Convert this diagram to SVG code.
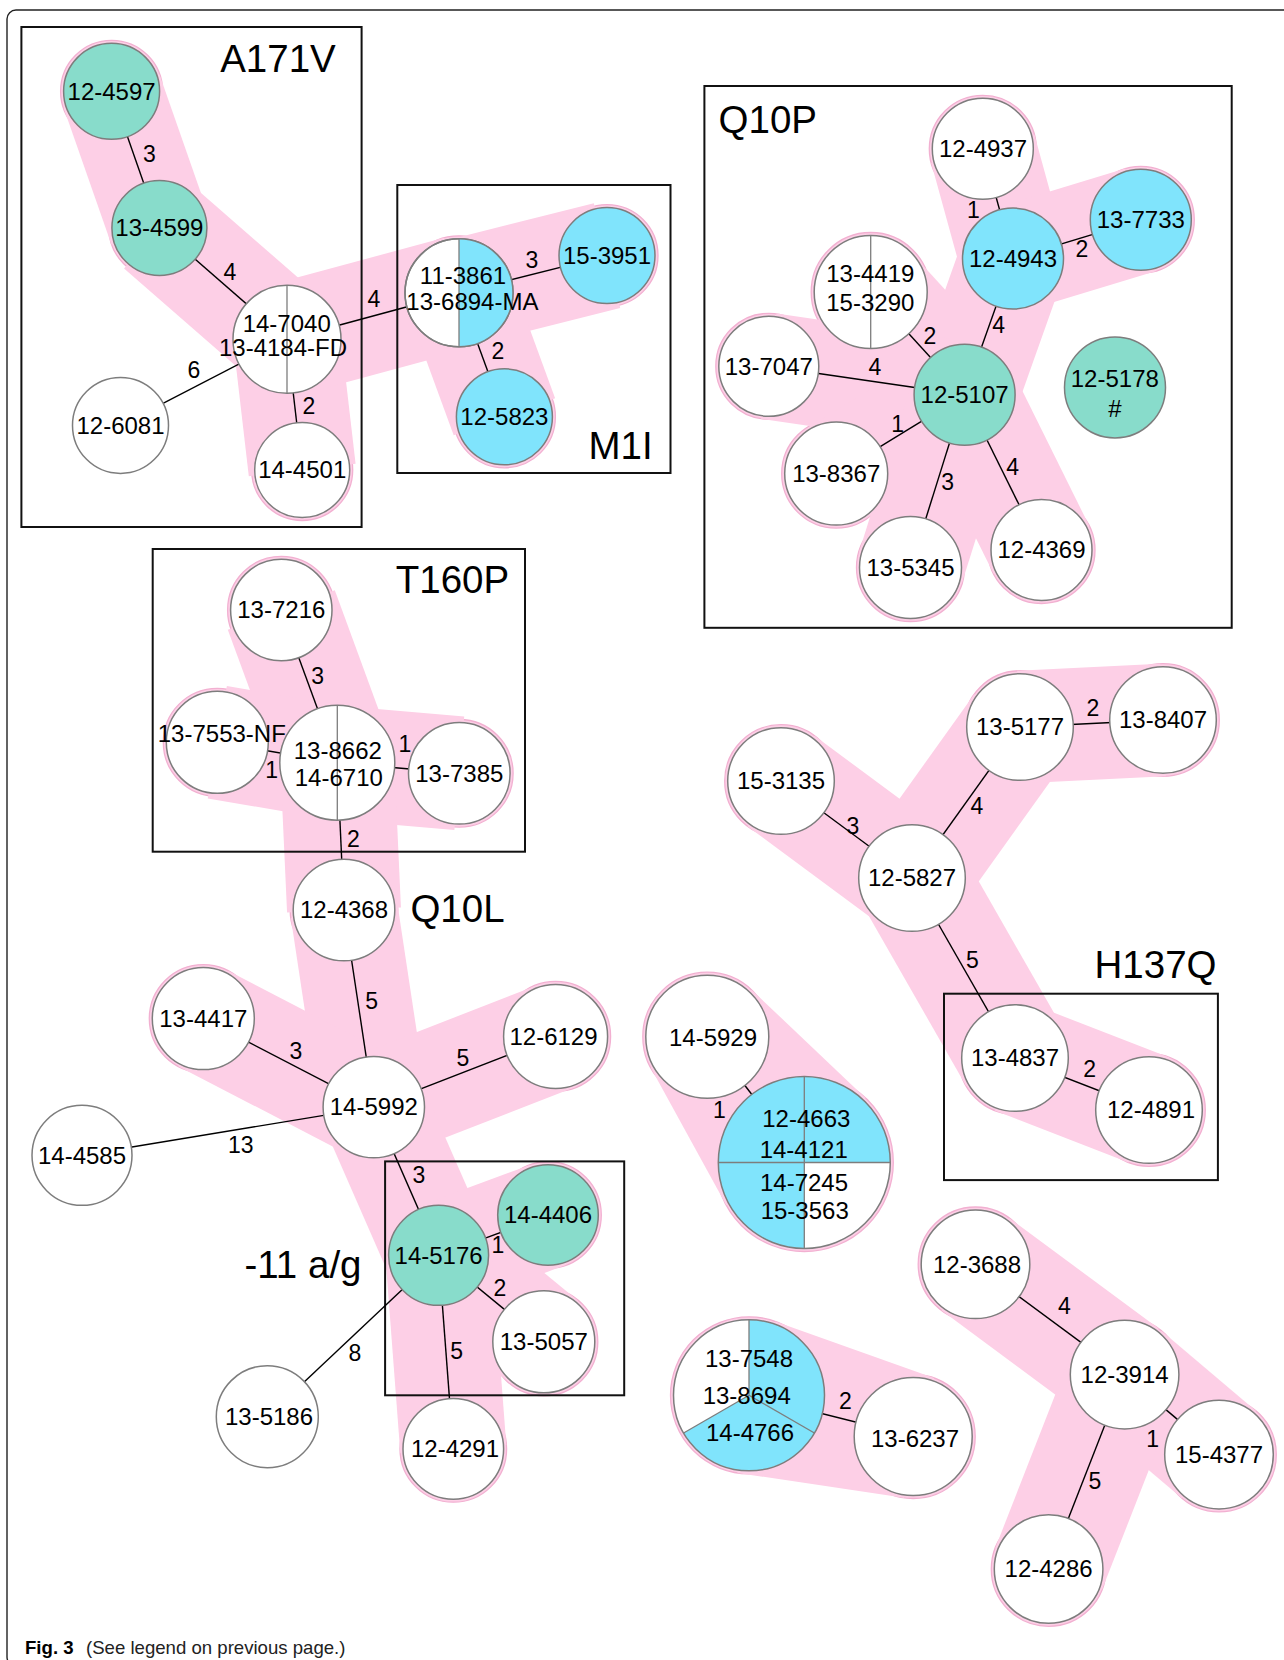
<svg xmlns="http://www.w3.org/2000/svg" width="1284" height="1660" viewBox="0 0 1284 1660">
<style>
.bg{fill:#ffffff}
.frame{fill:none;stroke:#222;stroke-width:1.4}
.box{fill:none;stroke:#111;stroke-width:2}
.ring{fill:#fdcfe6;stroke:#f2b0d1;stroke-width:1.3}
.band{stroke:#fdcfe6;stroke-linecap:butt;fill:none}
.hullpoly{fill:#fdcfe6}
.edge{stroke:#000;stroke-width:1.4}
.nc{stroke:#7d7d7d;stroke-width:1.5}
.w{fill:#ffffff}
.g{fill:#88dccb}
.c{fill:#80e4fc}
.div{stroke:#7d7d7d;stroke-width:1.3;fill:none}
text{font-family:"Liberation Sans",Arial,sans-serif;fill:#000}
.t{font-size:24px;text-anchor:middle}
.e{font-size:23px;text-anchor:middle}
.big{font-size:38.5px;text-anchor:middle}
.cap{font-size:18.6px}
</style>
<rect class="bg" x="0" y="0" width="1284" height="1660"/>
<rect class="frame" x="7" y="10" width="1400" height="1656" rx="9"/>

<g id="hulls">
  <circle class="ring" cx="111.6" cy="91.3" r="51"/>
  <circle class="ring" cx="159.4" cy="228" r="50.5"/>
  <circle class="ring" cx="287" cy="339.3" r="57"/>
  <circle class="ring" cx="302.2" cy="470" r="50.5"/>
  <circle class="ring" cx="459" cy="292.8" r="57"/>
  <circle class="ring" cx="607" cy="255.6" r="51"/>
  <circle class="ring" cx="504.4" cy="416.8" r="51"/>

  <circle class="ring" cx="982.8" cy="148.8" r="53.5"/>
  <circle class="ring" cx="1013" cy="258.6" r="53.5"/>
  <circle class="ring" cx="1140.8" cy="219.8" r="53.5"/>
  <circle class="ring" cx="870.7" cy="292" r="59.5"/>
  <circle class="ring" cx="768.8" cy="366.3" r="53"/>
  <circle class="ring" cx="964.6" cy="394.8" r="53.5"/>
  <circle class="ring" cx="836.2" cy="473.6" r="54.5"/>
  <circle class="ring" cx="910.5" cy="567.5" r="54"/>
  <circle class="ring" cx="1041.5" cy="550" r="53.5"/>

  <circle class="ring" cx="281.3" cy="610" r="53.7"/>
  <circle class="ring" cx="217.3" cy="742.3" r="54"/>
  <circle class="ring" cx="337.3" cy="762.7" r="60.5"/>
  <circle class="ring" cx="459.3" cy="773.3" r="53.8"/>
  <circle class="ring" cx="344" cy="910" r="53.8"/>
  <circle class="ring" cx="373.8" cy="1107.1" r="53.7"/>
  <circle class="ring" cx="203.3" cy="1018.6" r="54"/>
  <circle class="ring" cx="555.6" cy="1036.4" r="55"/>
  <circle class="ring" cx="438.6" cy="1255.3" r="53"/>
  <circle class="ring" cx="548" cy="1215" r="53.3"/>
  <circle class="ring" cx="543.8" cy="1341.8" r="54"/>
  <circle class="ring" cx="453.3" cy="1448.9" r="53.3"/>

  <circle class="ring" cx="781" cy="781" r="56.3"/>
  <circle class="ring" cx="912" cy="878" r="56.3"/>
  <circle class="ring" cx="1020" cy="727" r="56.3"/>
  <circle class="ring" cx="1163" cy="720" r="56.3"/>
  <circle class="ring" cx="1015" cy="1058" r="56.3"/>
  <circle class="ring" cx="1149" cy="1110" r="56.3"/>

  <circle class="ring" cx="707.3" cy="1036.7" r="64.5"/>
  <circle class="ring" cx="804.3" cy="1162.5" r="89"/>
  <circle class="ring" cx="749" cy="1395.3" r="78.5"/>
  <circle class="ring" cx="913.2" cy="1436.5" r="62"/>

  <circle class="ring" cx="975.5" cy="1264.3" r="57.3"/>
  <circle class="ring" cx="1124.6" cy="1374.6" r="57.3"/>
  <circle class="ring" cx="1219" cy="1454.6" r="57.3"/>
  <circle class="ring" cx="1048.6" cy="1569" r="57.3"/>

  <line class="band" stroke-width="101.5" x1="111.6" y1="91.3" x2="159.4" y2="228"/>
  <line class="band" stroke-width="107.5" x1="159.4" y1="228" x2="287" y2="339.3"/>
  <line class="band" stroke-width="107.5" x1="287" y1="339.3" x2="302.2" y2="470"/>
  <line class="band" stroke-width="114" x1="287" y1="339.3" x2="459" y2="292.8"/>
  <line class="band" stroke-width="108" x1="459" y1="292.8" x2="607" y2="255.6"/>
  <line class="band" stroke-width="108" x1="459" y1="292.8" x2="504.4" y2="416.8"/>

  <line class="band" stroke-width="107" x1="982.8" y1="148.8" x2="1013" y2="258.6"/>
  <line class="band" stroke-width="107" x1="1013" y1="258.6" x2="1140.8" y2="219.8"/>
  <line class="band" stroke-width="107" x1="1013" y1="258.6" x2="964.6" y2="394.8"/>
  <line class="band" stroke-width="113" x1="870.7" y1="292" x2="964.6" y2="394.8"/>
  <line class="band" stroke-width="106.5" x1="768.8" y1="366.3" x2="964.6" y2="394.8"/>
  <line class="band" stroke-width="108" x1="836.2" y1="473.6" x2="964.6" y2="394.8"/>
  <line class="band" stroke-width="107.5" x1="910.5" y1="567.5" x2="964.6" y2="394.8"/>
  <line class="band" stroke-width="107" x1="1041.5" y1="550" x2="964.6" y2="394.8"/>

  <line class="band" stroke-width="114" x1="281.3" y1="610" x2="337.3" y2="762.7"/>
  <line class="band" stroke-width="114" x1="217.3" y1="742.3" x2="337.3" y2="762.7"/>
  <line class="band" stroke-width="114" x1="459.3" y1="773.3" x2="337.3" y2="762.7"/>
  <line class="band" stroke-width="114" x1="344" y1="910" x2="337.3" y2="762.7"/>
  <line class="band" stroke-width="107.5" x1="344" y1="910" x2="373.8" y2="1107.1"/>
  <line class="band" stroke-width="107.7" x1="203.3" y1="1018.6" x2="373.8" y2="1107.1"/>
  <line class="band" stroke-width="108.7" x1="555.6" y1="1036.4" x2="373.8" y2="1107.1"/>
  <line class="band" stroke-width="106.7" x1="373.8" y1="1107.1" x2="438.6" y2="1255.3"/>
  <line class="band" stroke-width="106.3" x1="438.6" y1="1255.3" x2="548" y2="1215"/>
  <line class="band" stroke-width="107" x1="438.6" y1="1255.3" x2="543.8" y2="1341.8"/>
  <line class="band" stroke-width="106.3" x1="438.6" y1="1255.3" x2="453.3" y2="1448.9"/>

  <line class="band" stroke-width="112.6" x1="781" y1="781" x2="912" y2="878"/>
  <line class="band" stroke-width="112.6" x1="912" y1="878" x2="1020" y2="727"/>
  <line class="band" stroke-width="112.6" x1="1020" y1="727" x2="1163" y2="720"/>
  <line class="band" stroke-width="112.6" x1="912" y1="878" x2="1015" y2="1058"/>
  <line class="band" stroke-width="112.6" x1="1015" y1="1058" x2="1149" y2="1110"/>

  <polygon class="hullpoly" points="751.7,989.9 865.5,1097.9 726.3,1205.3 650.8,1067.7"/>
  <polygon class="hullpoly" points="775.4,1321.4 934.1,1378.1 904,1497.8 737.4,1472.9"/>

  <line class="band" stroke-width="114.6" x1="975.5" y1="1264.3" x2="1124.6" y2="1374.6"/>
  <line class="band" stroke-width="114.6" x1="1124.6" y1="1374.6" x2="1219" y2="1454.6"/>
  <line class="band" stroke-width="114.6" x1="1124.6" y1="1374.6" x2="1048.6" y2="1569"/>
</g>

<g id="boxes">
  <rect class="box" x="21.4" y="27" width="340.2" height="500"/>
  <rect class="box" x="397.3" y="185" width="273.2" height="288"/>
  <rect class="box" x="704.4" y="86" width="527.3" height="541.8"/>
  <rect class="box" x="152.7" y="549" width="372.3" height="302.7"/>
  <rect class="box" x="385.1" y="1161.4" width="239.1" height="233.9"/>
  <rect class="box" x="944" y="993.7" width="273.9" height="186.4"/>
</g>

<g id="connectors">
  <line class="edge" x1="111.6" y1="91.3" x2="159.4" y2="228"/>
  <line class="edge" x1="159.4" y1="228" x2="287" y2="339.3"/>
  <line class="edge" x1="287" y1="339.3" x2="120.5" y2="425.4"/>
  <line class="edge" x1="287" y1="339.3" x2="302.2" y2="470"/>
  <line class="edge" x1="287" y1="339.3" x2="459" y2="292.8"/>
  <line class="edge" x1="459" y1="292.8" x2="607" y2="255.6"/>
  <line class="edge" x1="459" y1="292.8" x2="504.4" y2="416.8"/>

  <line class="edge" x1="982.8" y1="148.8" x2="1013" y2="258.6"/>
  <line class="edge" x1="1013" y1="258.6" x2="1140.8" y2="219.8"/>
  <line class="edge" x1="1013" y1="258.6" x2="964.6" y2="394.8"/>
  <line class="edge" x1="870.7" y1="292" x2="964.6" y2="394.8"/>
  <line class="edge" x1="768.8" y1="366.3" x2="964.6" y2="394.8"/>
  <line class="edge" x1="836.2" y1="473.6" x2="964.6" y2="394.8"/>
  <line class="edge" x1="910.5" y1="567.5" x2="964.6" y2="394.8"/>
  <line class="edge" x1="1041.5" y1="550" x2="964.6" y2="394.8"/>

  <line class="edge" x1="281.3" y1="610" x2="337.3" y2="762.7"/>
  <line class="edge" x1="217.3" y1="742.3" x2="337.3" y2="762.7"/>
  <line class="edge" x1="459.3" y1="773.3" x2="337.3" y2="762.7"/>
  <line class="edge" x1="344" y1="910" x2="337.3" y2="762.7"/>

  <line class="edge" x1="344" y1="910" x2="373.8" y2="1107.1"/>
  <line class="edge" x1="203.3" y1="1018.6" x2="373.8" y2="1107.1"/>
  <line class="edge" x1="555.6" y1="1036.4" x2="373.8" y2="1107.1"/>
  <line class="edge" x1="82" y1="1155.3" x2="373.8" y2="1107.1"/>
  <line class="edge" x1="373.8" y1="1107.1" x2="438.6" y2="1255.3"/>
  <line class="edge" x1="438.6" y1="1255.3" x2="548" y2="1215"/>
  <line class="edge" x1="438.6" y1="1255.3" x2="543.8" y2="1341.8"/>
  <line class="edge" x1="438.6" y1="1255.3" x2="453.3" y2="1448.9"/>
  <line class="edge" x1="438.6" y1="1255.3" x2="267.3" y2="1416.7"/>

  <line class="edge" x1="781" y1="781" x2="912" y2="878"/>
  <line class="edge" x1="912" y1="878" x2="1020" y2="727"/>
  <line class="edge" x1="1020" y1="727" x2="1163" y2="720"/>
  <line class="edge" x1="912" y1="878" x2="1015" y2="1058"/>
  <line class="edge" x1="1015" y1="1058" x2="1149" y2="1110"/>

  <line class="edge" x1="707.3" y1="1036.7" x2="804.3" y2="1162.5"/>
  <line class="edge" x1="749" y1="1395.3" x2="913.2" y2="1436.5"/>

  <line class="edge" x1="975.5" y1="1264.3" x2="1124.6" y2="1374.6"/>
  <line class="edge" x1="1124.6" y1="1374.6" x2="1219" y2="1454.6"/>
  <line class="edge" x1="1124.6" y1="1374.6" x2="1048.6" y2="1569"/>

  <text class="e" x="149.5" y="162">3</text>
  <text class="e" x="230" y="280">4</text>
  <text class="e" x="194" y="378">6</text>
  <text class="e" x="309" y="414">2</text>
  <text class="e" x="374" y="307">4</text>
  <text class="e" x="532" y="268">3</text>
  <text class="e" x="498" y="359">2</text>

  <text class="e" x="973.3" y="218">1</text>
  <text class="e" x="1082" y="257.4">2</text>
  <text class="e" x="998.7" y="332.5">4</text>
  <text class="e" x="929.8" y="343.6">2</text>
  <text class="e" x="874.9" y="375">4</text>
  <text class="e" x="897.6" y="432.4">1</text>
  <text class="e" x="947.6" y="490.4">3</text>
  <text class="e" x="1012.7" y="475">4</text>

  <text class="e" x="317.7" y="684">3</text>
  <text class="e" x="271.7" y="778">1</text>
  <text class="e" x="405" y="752.3">1</text>
  <text class="e" x="353.3" y="847.3">2</text>

  <text class="e" x="371.7" y="1009.4">5</text>
  <text class="e" x="295.9" y="1059.4">3</text>
  <text class="e" x="463" y="1065.8">5</text>
  <text class="e" x="240.8" y="1153.3">13</text>
  <text class="e" x="418.8" y="1182.6">3</text>
  <text class="e" x="498" y="1253.3">1</text>
  <text class="e" x="500" y="1296.2">2</text>
  <text class="e" x="456.7" y="1358.7">5</text>
  <text class="e" x="354.8" y="1360.5">8</text>

  <text class="e" x="853" y="834.4">3</text>
  <text class="e" x="977" y="813.5">4</text>
  <text class="e" x="1093" y="715.5">2</text>
  <text class="e" x="972.5" y="968">5</text>
  <text class="e" x="1089.6" y="1077">2</text>

  <text class="e" x="719.3" y="1118">1</text>
  <text class="e" x="845.5" y="1408.5">2</text>

  <text class="e" x="1064.3" y="1314.4">4</text>
  <text class="e" x="1152.6" y="1446.6">1</text>
  <text class="e" x="1095" y="1488.7">5</text>
</g>

<g id="n-12-4597"><circle class="nc g" cx="111.6" cy="91.3" r="48"/><text class="t" x="111.6" y="99.5">12-4597</text></g>
<g id="n-13-4599"><circle class="nc g" cx="159.4" cy="228" r="47.5"/><text class="t" x="159.4" y="236.2">13-4599</text></g>
<g id="n-14-7040"><circle class="nc w" cx="287" cy="339.3" r="54"/><line class="div" x1="287" y1="285.3" x2="287" y2="393.3"/><text class="t" x="286.7" y="332">14-7040</text><text class="t" x="283" y="356">13-4184-FD</text></g>
<g id="n-12-6081"><circle class="nc w" cx="120.5" cy="425.4" r="48"/><text class="t" x="120.5" y="433.6">12-6081</text></g>
<g id="n-14-4501"><circle class="nc w" cx="302.2" cy="470" r="47.5"/><text class="t" x="302.2" y="478.2">14-4501</text></g>
<g id="n-11-3861"><circle class="nc w" cx="459" cy="292.8" r="54"/><path class="c" d="M459,238.8 A54,54 0 0 1 459,346.8 Z"/><circle cx="459" cy="292.8" r="54" fill="none" class="nc"/><line class="div" x1="459" y1="238.8" x2="459" y2="346.8"/><text class="t" x="463" y="284">11-3861</text><text class="t" x="472.4" y="309.6">13-6894-MA</text></g>
<g id="n-15-3951"><circle class="nc c" cx="607" cy="255.6" r="48"/><text class="t" x="607" y="263.8">15-3951</text></g>
<g id="n-12-5823"><circle class="nc c" cx="504.4" cy="416.8" r="48"/><text class="t" x="504.4" y="425">12-5823</text></g>

<g id="n-12-4937"><circle class="nc w" cx="982.8" cy="148.8" r="50.5"/><text class="t" x="983" y="157">12-4937</text></g>
<g id="n-12-4943"><circle class="nc c" cx="1013" cy="258.6" r="50.5"/><text class="t" x="1013" y="266.8">12-4943</text></g>
<g id="n-13-7733"><circle class="nc c" cx="1140.8" cy="219.8" r="50.5"/><text class="t" x="1140.8" y="228">13-7733</text></g>
<g id="n-13-4419"><circle class="nc w" cx="870.7" cy="292" r="56.5"/><line class="div" x1="870.7" y1="235.5" x2="870.7" y2="348.5"/><text class="t" x="870.3" y="282.2">13-4419</text><text class="t" x="870.3" y="311.2">15-3290</text></g>
<g id="n-13-7047"><circle class="nc w" cx="768.8" cy="366.3" r="50"/><text class="t" x="768.8" y="374.5">13-7047</text></g>
<g id="n-12-5107"><circle class="nc g" cx="964.6" cy="394.8" r="50.5"/><text class="t" x="964.6" y="403">12-5107</text></g>
<g id="n-12-5178"><circle class="nc g" cx="1115" cy="387.4" r="50.5"/><text class="t" x="1114.8" y="387.2">12-5178</text><text class="t" x="1115" y="417.2">#</text></g>
<g id="n-13-8367"><circle class="nc w" cx="836.2" cy="473.6" r="51.5"/><text class="t" x="836.2" y="481.8">13-8367</text></g>
<g id="n-13-5345"><circle class="nc w" cx="910.5" cy="567.5" r="51"/><text class="t" x="910.5" y="575.7">13-5345</text></g>
<g id="n-12-4369"><circle class="nc w" cx="1041.5" cy="550" r="50.5"/><text class="t" x="1041.5" y="558.2">12-4369</text></g>

<g id="n-13-7216"><circle class="nc w" cx="281.3" cy="610" r="50.7"/><text class="t" x="281.3" y="618.2">13-7216</text></g>
<g id="n-13-7553-NF"><circle class="nc w" cx="217.3" cy="742.3" r="51"/><text class="t" x="221.8" y="741.7">13-7553-NF</text></g>
<g id="n-13-8662"><circle class="nc w" cx="337.3" cy="762.7" r="57.5"/><line class="div" x1="337.3" y1="705.2" x2="337.3" y2="820.2"/><text class="t" x="337.8" y="759.1">13-8662</text><text class="t" x="338.8" y="786.1">14-6710</text></g>
<g id="n-13-7385"><circle class="nc w" cx="459.3" cy="773.3" r="50.8"/><text class="t" x="459.3" y="781.5">13-7385</text></g>
<g id="n-12-4368"><circle class="nc w" cx="344" cy="910" r="50.8"/><text class="t" x="344" y="918.2">12-4368</text></g>

<g id="n-14-5992"><circle class="nc w" cx="373.8" cy="1107.1" r="50.7"/><text class="t" x="373.8" y="1115.3">14-5992</text></g>
<g id="n-13-4417"><circle class="nc w" cx="203.3" cy="1018.6" r="51"/><text class="t" x="203.3" y="1026.8">13-4417</text></g>
<g id="n-12-6129"><circle class="nc w" cx="555.6" cy="1036.4" r="52"/><text class="t" x="553.5" y="1044.6">12-6129</text></g>
<g id="n-14-4585"><circle class="nc w" cx="82" cy="1155.3" r="50"/><text class="t" x="82" y="1163.5">14-4585</text></g>
<g id="n-14-5176"><circle class="nc g" cx="438.6" cy="1255.3" r="50"/><text class="t" x="438.6" y="1263.5">14-5176</text></g>
<g id="n-14-4406"><circle class="nc g" cx="548" cy="1215" r="50.3"/><text class="t" x="548" y="1223.2">14-4406</text></g>
<g id="n-13-5057"><circle class="nc w" cx="543.8" cy="1341.8" r="51"/><text class="t" x="543.8" y="1350">13-5057</text></g>
<g id="n-12-4291"><circle class="nc w" cx="453.3" cy="1448.9" r="50.3"/><text class="t" x="455" y="1457.1">12-4291</text></g>
<g id="n-13-5186"><circle class="nc w" cx="267.3" cy="1416.7" r="51"/><text class="t" x="269" y="1424.9">13-5186</text></g>

<g id="n-15-3135"><circle class="nc w" cx="781" cy="781" r="53.3"/><text class="t" x="781" y="789.2">15-3135</text></g>
<g id="n-12-5827"><circle class="nc w" cx="912" cy="878" r="53.3"/><text class="t" x="912" y="886.2">12-5827</text></g>
<g id="n-13-5177"><circle class="nc w" cx="1020" cy="727" r="53.3"/><text class="t" x="1020" y="735.2">13-5177</text></g>
<g id="n-13-8407"><circle class="nc w" cx="1163" cy="720" r="53.3"/><text class="t" x="1163" y="728.2">13-8407</text></g>
<g id="n-13-4837"><circle class="nc w" cx="1015" cy="1058" r="53.3"/><text class="t" x="1015" y="1066.2">13-4837</text></g>
<g id="n-12-4891"><circle class="nc w" cx="1149" cy="1110" r="53.3"/><text class="t" x="1151" y="1118.2">12-4891</text></g>

<g id="n-14-5929"><circle class="nc w" cx="707.3" cy="1036.7" r="61.5"/><text class="t" x="713" y="1045.5">14-5929</text></g>
<g id="n-12-4663"><circle class="c" cx="804.3" cy="1162.5" r="86"/><path class="w" d="M804.3,1162.5 L890.3,1162.5 A86,86 0 0 1 804.3,1248.5 Z"/><line class="div" x1="804.3" y1="1076.5" x2="804.3" y2="1248.5"/><line class="div" x1="718.3" y1="1162.5" x2="890.3" y2="1162.5"/><circle class="nc" fill="none" cx="804.3" cy="1162.5" r="86"/><text class="t" x="806.3" y="1127.1">12-4663</text><text class="t" x="803.7" y="1158.1">14-4121</text><text class="t" x="804" y="1191.4">14-7245</text><text class="t" x="804.7" y="1219.4">15-3563</text></g>

<g id="n-13-7548"><circle class="c" cx="749" cy="1395.3" r="75.5"/><path class="w" d="M749,1395.3 L683.6,1433.05 A75.5,75.5 0 0 1 749,1319.8 Z"/><line class="div" x1="749" y1="1395.3" x2="749" y2="1319.8"/><line class="div" x1="749" y1="1395.3" x2="683.6" y2="1433.05"/><line class="div" x1="749" y1="1395.3" x2="814.4" y2="1433.05"/><circle class="nc" fill="none" cx="749" cy="1395.3" r="75.5"/><text class="t" x="749" y="1366.7">13-7548</text><text class="t" x="746.7" y="1404.4">13-8694</text><text class="t" x="750" y="1441.1">14-4766</text></g>
<g id="n-13-6237"><circle class="nc w" cx="913.2" cy="1436.5" r="59"/><text class="t" x="915" y="1446.7">13-6237</text></g>

<g id="n-12-3688"><circle class="nc w" cx="975.5" cy="1264.3" r="54.3"/><text class="t" x="977" y="1272.5">12-3688</text></g>
<g id="n-12-3914"><circle class="nc w" cx="1124.6" cy="1374.6" r="54.3"/><text class="t" x="1124.6" y="1382.8">12-3914</text></g>
<g id="n-15-4377"><circle class="nc w" cx="1219" cy="1454.6" r="54.3"/><text class="t" x="1219" y="1462.8">15-4377</text></g>
<g id="n-12-4286"><circle class="nc w" cx="1048.6" cy="1569" r="54.3"/><text class="t" x="1048.6" y="1577.2">12-4286</text></g>

<g id="labels">
  <text class="big" x="278" y="71.5">A171V</text>
  <text class="big" x="620.5" y="458.5">M1I</text>
  <text class="big" x="767.8" y="132.5">Q10P</text>
  <text class="big" x="452.5" y="593">T160P</text>
  <text class="big" x="457.5" y="922">Q10L</text>
  <text class="big" x="1155.5" y="977.5">H137Q</text>
  <text class="big" x="303" y="1278">-11 a/g</text>
</g>

<text class="cap" x="25" y="1654"><tspan font-weight="bold">Fig. 3</tspan><tspan x="86" fill="#222">(See legend on previous page.)</tspan></text>
</svg>
